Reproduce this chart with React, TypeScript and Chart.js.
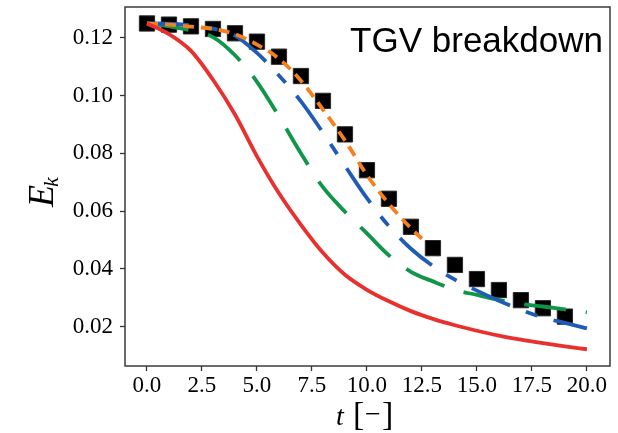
import React, { useEffect, useRef } from "react";
import { Chart, registerables } from "chart.js";
Chart.register(...registerables);

const tFull = [0, 1, 2, 3, 4, 5, 6, 7, 8, 9, 10, 11, 12, 13, 14, 15, 16, 17, 18, 19, 20];
const redE = [0.1250, 0.1213, 0.1155, 0.1055, 0.0935, 0.0790, 0.0662, 0.0553, 0.0456, 0.0380, 0.0328, 0.0288, 0.0254, 0.0227, 0.0205, 0.0186, 0.0169, 0.0155, 0.0143, 0.0132, 0.0122];
const greenE = [0.1250, 0.1240, 0.1226, 0.1203, 0.1140, 0.1048, 0.0928, 0.0800, 0.0683, 0.0598, 0.0523, 0.0447, 0.0390, 0.0357, 0.0328, 0.0310, 0.0293, 0.0279, 0.0270, 0.0260, 0.0250];
const blueE = [0.1250, 0.1249, 0.1243, 0.1232, 0.1208, 0.1148, 0.1070, 0.0980, 0.0872, 0.0757, 0.0645, 0.0548, 0.0470, 0.0410, 0.0363, 0.0325, 0.0290, 0.0258, 0.0232, 0.0213, 0.0194];
const orangeT = [0, 1, 2, 3, 4, 5, 6, 7, 8, 9, 10, 11, 12, 12.5];
const orangeE = [0.1250, 0.1246, 0.1239, 0.1231, 0.1213, 0.1177, 0.1128, 0.1052, 0.0952, 0.0845, 0.0725, 0.0625, 0.0541, 0.0505];
const refT = [0, 1, 2, 3, 4, 5, 6, 7, 8, 9, 10, 11, 12, 13, 14, 15, 16, 17, 18, 19];
const refE = [0.1250, 0.1246, 0.1240, 0.1231, 0.1216, 0.1187, 0.1135, 0.1068, 0.0982, 0.0866, 0.0742, 0.0643, 0.0546, 0.0472, 0.0414, 0.0365, 0.0327, 0.0292, 0.0264, 0.0235];
const xTicks = [0, 2.5, 5, 7.5, 10, 12.5, 15, 17.5, 20];
const yTicks = [0.02, 0.04, 0.06, 0.08, 0.1, 0.12];
const titleText = "TGV breakdown";

const pts = (xs: number[], ys: number[]) => xs.map((x, i) => ({ x, y: ys[i] }));

const SERIF = "'Liberation Serif', 'Times New Roman', serif";
const SANS = "'Liberation Sans', Arial, sans-serif";

// target plot-area box in page pixels
const AREA = { left: 125, top: 7, right: 610, bottom: 366 };

const overlay = {
  id: "overlay",
  afterDraw(chart: any) {
    const { ctx, chartArea: a } = chart;
    ctx.save();
    ctx.strokeStyle = "#3a3a3a";
    ctx.lineWidth = 1.5;
    ctx.strokeRect(a.left, a.top, a.right - a.left, a.bottom - a.top);
    ctx.fillStyle = "#000";
    ctx.font = `35px ${SANS}`;
    ctx.textAlign = "right";
    ctx.textBaseline = "alphabetic";
    ctx.fillText(titleText, a.right - 7, 52);
    const xb = 425;
    ctx.textAlign = "left";
    ctx.font = `italic 28px ${SERIF}`;
    ctx.fillText("t", 336, xb);
    ctx.font = `34px ${SERIF}`;
    ctx.fillText("[", 353, xb);
    ctx.fillText("]", 382, xb);
    ctx.font = `28px ${SERIF}`;
    ctx.fillText("\u2212", 365, xb - 2);
    ctx.translate(53, 190);
    ctx.rotate(-Math.PI / 2);
    ctx.font = `italic 36px ${SERIF}`;
    ctx.textAlign = "left";
    ctx.fillText("E", -17, 0);
    const ew = ctx.measureText("E").width;
    ctx.font = `italic 22px ${SERIF}`;
    ctx.fillText("k", -17 + ew - 2, 5);
    ctx.restore();
  },
};

export default function App() {
  const ref = useRef<HTMLCanvasElement | null>(null);
  useEffect(() => {
    document.body.style.margin = "0";
    const c = ref.current!;
    const lineBase = {
      showLine: true,
      pointRadius: 0,
      pointHoverRadius: 0,
      borderWidth: 3.8,
      fill: false,
      cubicInterpolationMode: "monotone" as const,
      borderCapStyle: "butt" as const,
    };
    const chart = new Chart(c, {
      type: "scatter",
      data: {
        datasets: [
          { ...lineBase, label: "red", data: pts(tFull, redE), borderColor: "#e8302e", backgroundColor: "#e8302e" },
          { ...lineBase, label: "orange", data: pts(orangeT, orangeE), borderColor: "#f4801f", backgroundColor: "#f4801f", borderDash: [11, 7] },
          { ...lineBase, label: "blue", data: pts(tFull, blueE), borderColor: "#1f5db5", backgroundColor: "#1f5db5", borderDash: [42, 17, 12, 17] },
          { ...lineBase, label: "green", data: pts(tFull, greenE), borderColor: "#0f9648", backgroundColor: "#0f9648", borderDash: [42, 20] },
          {
            label: "ref",
            data: pts(refT, refE),
            showLine: false,
            pointStyle: "rect",
            pointRadius: 10.8,
            pointHoverRadius: 10.8,
            backgroundColor: "#000",
            borderColor: "#2a2a2a",
            borderWidth: 1,
          },
        ],
      },
      options: {
        responsive: false,
        animation: false,
        events: [],
        layout: { autoPadding: false, padding: { left: 0, right: 8, top: 7, bottom: 0 } },
        plugins: { legend: { display: false }, tooltip: { enabled: false }, title: { display: false } },
        scales: {
          x: {
            type: "linear",
            min: -1,
            max: 21.05,
            afterBuildTicks: (s: any) => { s.ticks = xTicks.map((v) => ({ value: v })); },
            afterFit: (s: any) => { s.height = 67; s.paddingLeft = 0; s.paddingRight = 0; },
            border: { display: false },
            grid: { drawOnChartArea: false, drawTicks: true, tickLength: 5, tickWidth: 1.3, color: "#333" },
            ticks: {
              color: "#000",
              padding: 1,
              maxRotation: 0,
              autoSkip: false,
              font: { family: SERIF, size: 23 },
              callback: (v: any) => Number(v).toFixed(1),
            },
          },
          y: {
            type: "linear",
            min: 0.0064,
            max: 0.1307,
            afterBuildTicks: (s: any) => { s.ticks = yTicks.map((v) => ({ value: v })); },
            afterFit: (s: any) => { s.width = 125; s.paddingTop = 0; s.paddingBottom = 0; },
            border: { display: false },
            grid: { drawOnChartArea: false, drawTicks: true, tickLength: 5, tickWidth: 1.3, color: "#333" },
            ticks: {
              color: "#000",
              padding: 7,
              autoSkip: false,
              font: { family: SERIF, size: 23 },
              callback: (v: any) => Number(v).toFixed(2),
            },
          },
        },
      },
      plugins: [overlay],
    } as any);
    // nudge the plot area onto the target box if the layout is off
    for (let k = 0; k < 3; k++) {
      const a = chart.chartArea;
      const p: any = (chart as any).config.options.layout.padding;
      const dt = AREA.top - a.top, dr = a.right - AREA.right, dl = AREA.left - a.left, db = a.bottom - AREA.bottom;
      if (Math.abs(dt) < 0.5 && Math.abs(dr) < 0.5 && Math.abs(dl) < 0.5 && Math.abs(db) < 0.5) break;
      p.top += dt; p.right += dr; p.left += dl; p.bottom += db;
      chart.update();
    }
    return () => chart.destroy();
  }, []);
  return (
    <div style={{ position: "absolute", left: 0, top: 0, width: 618, height: 433, background: "#fff" }}>
      <canvas ref={ref} width={618} height={433} style={{ display: "block", width: 618, height: 433 }} />
    </div>
  );
}
